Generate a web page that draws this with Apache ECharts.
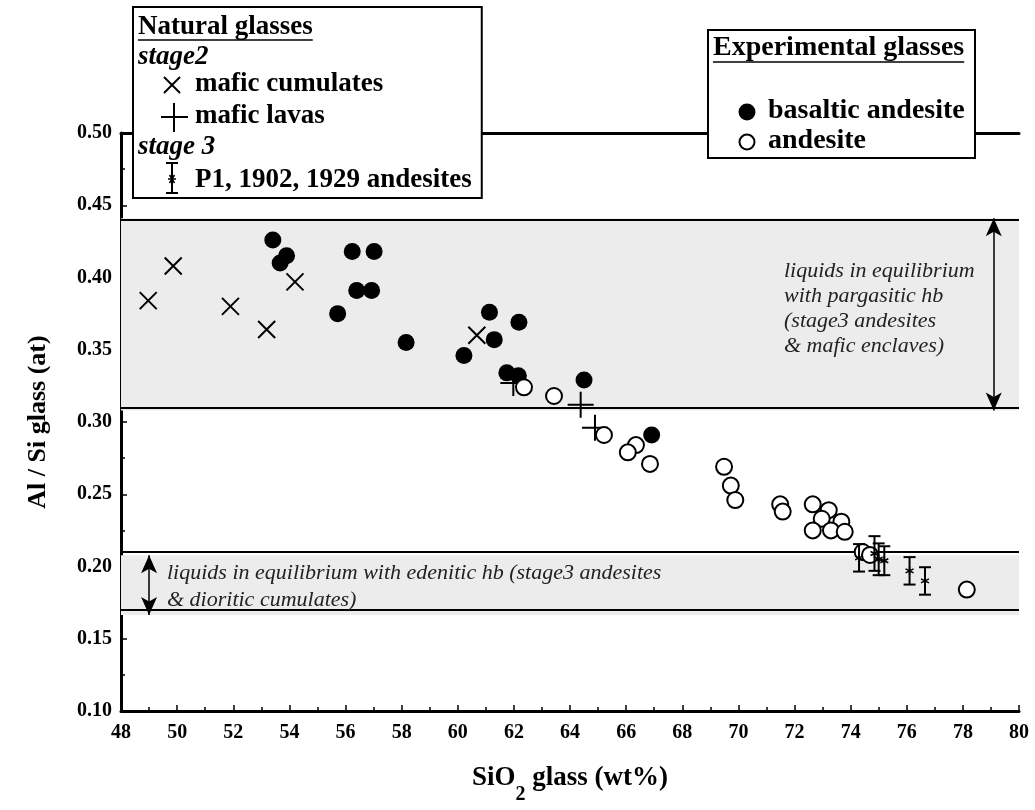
<!DOCTYPE html>
<html><head><meta charset="utf-8">
<script src="https://cdn.jsdelivr.net/npm/echarts@6/dist/echarts.min.js"></script>
<style>html,body{margin:0;padding:0;background:#fff}#c{width:1035px;height:810px}</style>
</head><body><div id="c"></div><script>
// ---- data ----
const xTicks = [48, 50, 52, 54, 56, 58, 60, 62, 64, 66, 68, 70, 72, 74, 76, 78, 80];
const yTicks = [0.10, 0.15, 0.20, 0.25, 0.30, 0.35, 0.40, 0.45, 0.50];
// Natural glasses, stage 2
const maficCumulates = [[48.97, 0.384], [49.86, 0.408], [51.9, 0.380], [53.19, 0.364], [54.2, 0.397], [60.68, 0.360]];
const maficLavas = [[61.98, 0.327], [64.38, 0.312], [64.89, 0.296]];
// Experimental glasses
const basalticAndesite = [[53.41, 0.426], [53.9, 0.415], [53.67, 0.410], [56.24, 0.418], [57.02, 0.418], [56.4, 0.391],
  [56.93, 0.391], [55.72, 0.375], [58.16, 0.355], [61.13, 0.376], [62.18, 0.369], [61.3, 0.357], [60.22, 0.346],
  [61.75, 0.334], [62.16, 0.332], [64.5, 0.329], [66.91, 0.291]];
const andesite = [[62.36, 0.324], [63.43, 0.318], [65.21, 0.291], [66.35, 0.284], [66.06, 0.279], [66.85, 0.271],
  [69.49, 0.269], [69.73, 0.256], [69.89, 0.246], [71.49, 0.243], [71.58, 0.238], [72.65, 0.243], [73.22, 0.239],
  [72.97, 0.233], [73.67, 0.231], [72.65, 0.225], [73.3, 0.225], [73.79, 0.224], [74.43, 0.210], [74.69, 0.208],
  [78.14, 0.184]];
// Natural glasses, stage 3 (P1, 1902, 1929 andesites) with error bars
const stage3X = [74.3, 74.85, 75.0, 75.2, 76.1, 76.65];
const stage3Y = [0.206, 0.209, 0.205, 0.204, 0.197, 0.190];
const stage3Err = [0.0095, 0.012, 0.011, 0.010, 0.0095, 0.0095];
// Hornblende equilibrium bands
const pargasiticBand = [0.308, 0.441];
const edeniticBand = [0.1665, 0.2078];
const pargasiticArrowX = 79.1;
const edeniticArrowX = 49.0;

// ---- chart ----
const FF = '"Liberation Serif", "Times New Roman", serif';
const chart = echarts.init(document.getElementById('c'), null, {renderer: 'canvas'});
const mctx = document.createElement('canvas').getContext('2d');
function tw(text, font) { mctx.font = font; return mctx.measureText(text).width; }

const LF = 'bold 27px ' + FF;
const LFI = 'italic bold 27px ' + FF;
const p1Text = 'P1, 1902, 1929 andesites';
const natBoxRight = 195 + tw(p1Text, LF) + 10;
const natHead = 'Natural glasses';
const expHead = 'Experimental glasses';

const crossPath = 'path://M0,0L20,20M20,0L0,20';
const plusPath = 'path://M0,10L20,10M10,0L10,20';
const starPath = 'path://M5,0L5,10M0,2.5L10,7.5M0,7.5L10,2.5';

function txt(t, x, y, font, extra) {
  return Object.assign({type: 'text', x: x, y: y, z: 101,
    style: {text: t, font: font, fill: '#000', verticalAlign: 'middle', align: 'left'}}, extra || {});
}
function ln(x1, y1, x2, y2, w) {
  return {type: 'line', z: 101, shape: {x1: x1, y1: y1, x2: x2, y2: y2}, style: {stroke: '#000', lineWidth: w || 2}};
}
const natHeadW = tw(natHead, LF);
const expHeadW = tw(expHead, 'bold 28px ' + FF);

const graphics = [
  // Natural glasses legend box
  {type: 'rect', z: 100, shape: {x: 133, y: 7, width: natBoxRight - 133, height: 191}, style: {fill: '#fff', stroke: '#000', lineWidth: 2}},
  txt(natHead, 138, 27, LF), ln(138, 40, 138 + natHeadW, 40, 1.5),
  txt('stage2', 138, 57, LFI),
  ln(164, 77, 180, 93, 2), ln(164, 93, 180, 77, 2),
  txt('mafic cumulates', 195, 84, LF),
  ln(161, 117, 188, 117, 2), ln(174, 103, 174, 132, 2),
  txt('mafic lavas', 195, 116, LF),
  txt('stage 3', 138, 147, LFI),
  ln(172, 163, 172, 193, 2), ln(166, 163, 178, 163, 2), ln(166, 193, 178, 193, 2),
  ln(169.5, 175, 174.5, 183, 1.5), ln(169.5, 183, 174.5, 175, 1.5), ln(168, 179, 176, 179, 1.5),
  txt(p1Text, 195, 180, LF),
  // Experimental glasses legend box
  {type: 'rect', z: 100, shape: {x: 708, y: 30, width: 267, height: 128}, style: {fill: '#fff', stroke: '#000', lineWidth: 2}},
  txt(expHead, 713, 48, 'bold 28px ' + FF), ln(713, 62, 713 + expHeadW, 62, 1.5),
  {type: 'circle', z: 101, shape: {cx: 747, cy: 112, r: 8.5}, style: {fill: '#000'}},
  txt('basaltic andesite', 768, 111, 'bold 28px ' + FF),
  {type: 'circle', z: 101, shape: {cx: 747, cy: 142, r: 7.5}, style: {fill: '#fff', stroke: '#000', lineWidth: 2}},
  txt('andesite', 768, 141, 'bold 28px ' + FF),
  // band annotations
  {type: 'text', x: 784, y: 259, z: 50, style: {text: 'liquids in equilibrium\nwith pargasitic hb\n(stage3 andesites\n& mafic enclaves)',
    font: 'italic 22px ' + FF, fill: '#222', lineHeight: 25, verticalAlign: 'top'}},
  {type: 'text', x: 167, y: 560, z: 50, style: {text: 'liquids in equilibrium with edenitic hb (stage3 andesites\n& dioritic cumulates)',
    font: 'italic 22px ' + FF, fill: '#222', lineHeight: 27, verticalAlign: 'top'}}
];

const option = {
  animation: false,
  backgroundColor: '#fff',
  grid: {left: 121, right: 16, top: 133, bottom: 97, containLabel: false},
  xAxis: [{
    type: 'value', min: xTicks[0], max: xTicks[xTicks.length - 1], interval: xTicks[1] - xTicks[0],
    position: 'bottom',
    axisLine: {show: true, onZero: false, lineStyle: {color: '#000', width: 3}},
    axisTick: {show: true, inside: true, length: 6, lineStyle: {color: '#000', width: 1.5}},
    minorTick: {show: true, splitNumber: 2, length: 4, lineStyle: {color: '#000', width: 1.5}},
    splitLine: {show: false},
    axisLabel: {margin: 12, fontFamily: FF, fontWeight: 'bold', fontSize: 20, color: '#000'},
    name: '{a|SiO}{s|2}{a| glass (wt%)}', nameLocation: 'middle', nameGap: 54,
    nameTextStyle: {rich: {
      a: {fontFamily: FF, fontWeight: 'bold', fontSize: 27, color: '#000', lineHeight: 34, verticalAlign: 'top'},
      s: {fontFamily: FF, fontWeight: 'bold', fontSize: 20, color: '#000', lineHeight: 20, padding: [20, 0, 0, 0], verticalAlign: 'top'}
    }}
  }, {
    type: 'value', min: xTicks[0], max: xTicks[xTicks.length - 1], position: 'top',
    axisLine: {show: true, onZero: false, lineStyle: {color: '#000', width: 3}},
    axisTick: {show: false}, axisLabel: {show: false}, splitLine: {show: false}
  }],
  yAxis: {
    type: 'value', min: yTicks[0], max: yTicks[yTicks.length - 1], interval: yTicks[1] - yTicks[0],
    axisLine: {show: true, onZero: false, lineStyle: {color: '#000', width: 3}},
    axisTick: {show: true, inside: true, length: 6, lineStyle: {color: '#000', width: 1.5}},
    minorTick: {show: true, splitNumber: 2, length: 4, lineStyle: {color: '#000', width: 1.5}},
    splitLine: {show: false},
    axisLabel: {margin: 9, fontFamily: FF, fontWeight: 'bold', fontSize: 20, color: '#000',
      formatter: v => v.toFixed(2)},
    name: 'Al / Si glass (at)', nameLocation: 'middle', nameGap: 70,
    nameTextStyle: {fontFamily: FF, fontWeight: 'bold', fontSize: 26, color: '#000'}
  },
  graphic: graphics,
  series: [
    {
      type: 'line', data: [], silent: true, z: 1,
      markArea: {silent: true, itemStyle: {color: '#ececec'},
        data: [[{yAxis: pargasiticBand[0]}, {yAxis: pargasiticBand[1]}], [{yAxis: edeniticBand[0]}, {yAxis: edeniticBand[1]}]]},
      markLine: {silent: true, symbol: 'none', label: {show: false},
        lineStyle: {color: '#000', width: 2, type: 'solid'},
        data: [{yAxis: pargasiticBand[0]}, {yAxis: pargasiticBand[1]}, {yAxis: edeniticBand[0]}, {yAxis: edeniticBand[1]}]}
    },
    {
      type: 'line', data: [], silent: true, z: 2,
      markLine: {silent: true, symbol: ['arrow', 'arrow'], symbolSize: [12, 18], label: {show: false},
        lineStyle: {color: '#000', width: 1.5, type: 'solid'},
        data: [
          [{coord: [pargasiticArrowX, pargasiticBand[1]]}, {coord: [pargasiticArrowX, pargasiticBand[0]]}],
          [{coord: [edeniticArrowX, edeniticBand[1]]}, {coord: [edeniticArrowX, edeniticBand[0]]}]
        ]}
    },
    {name: 'basaltic andesite', type: 'scatter', data: basalticAndesite, symbol: 'circle', symbolSize: 17, z: 3,
      itemStyle: {color: '#000', opacity: 1}},
    {name: 'mafic cumulates', type: 'scatter', data: maficCumulates, symbol: crossPath, symbolSize: 17, z: 4,
      itemStyle: {color: 'none', borderColor: '#000', borderWidth: 2, opacity: 1}},
    {name: 'mafic lavas', type: 'scatter', data: maficLavas, symbol: plusPath, symbolSize: 26, z: 4,
      itemStyle: {color: 'none', borderColor: '#000', borderWidth: 2, opacity: 1}},
    {name: 'andesite', type: 'scatter', data: andesite, symbol: 'circle', symbolSize: 16, z: 5,
      itemStyle: {color: '#fff', borderColor: '#000', borderWidth: 2, opacity: 1}},
    {name: 'P1, 1902, 1929 andesites', type: 'custom', z: 6,
      data: stage3X.map((x, i) => [x, stage3Y[i], stage3Err[i]]),
      renderItem: function (params, api) {
        const x = api.value(0), y = api.value(1), e = api.value(2);
        const t = api.coord([x, y + e]), b = api.coord([x, y - e]);
        const st = {stroke: '#000', lineWidth: 2};
        return {type: 'group', children: [
          {type: 'line', shape: {x1: t[0], y1: t[1], x2: b[0], y2: b[1]}, style: st},
          {type: 'line', shape: {x1: t[0] - 6, y1: t[1], x2: t[0] + 6, y2: t[1]}, style: st},
          {type: 'line', shape: {x1: b[0] - 6, y1: b[1], x2: b[0] + 6, y2: b[1]}, style: st}
        ]};
      }
    },
    {type: 'scatter', z: 7, data: stage3X.map((x, i) => [x, stage3Y[i]]), symbol: starPath, symbolSize: 8,
      itemStyle: {color: 'none', borderColor: '#000', borderWidth: 1.5, opacity: 1}}
  ]
};
chart.setOption(option);
</script></body></html>
